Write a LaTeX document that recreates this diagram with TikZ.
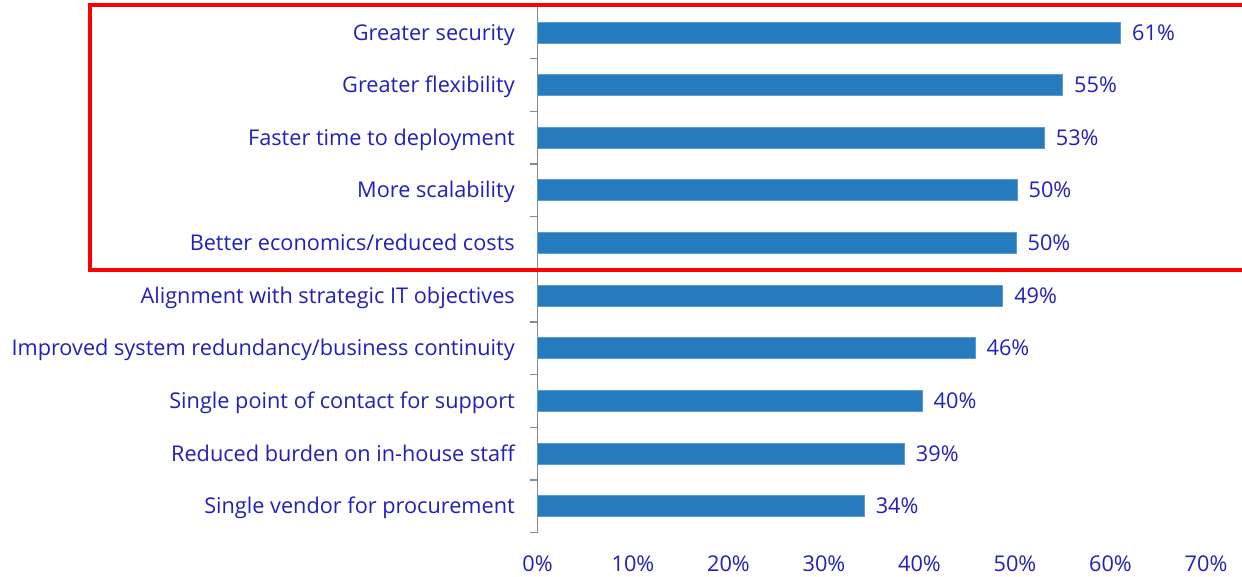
\documentclass[tikz,border=0pt]{standalone}
\usepackage{fontspec}
\setmainfont{Open Sans}
\definecolor{barblue}{RGB}{38,123,190}
\definecolor{txtblue}{RGB}{32,32,186}
\definecolor{axisgray}{RGB}{137,137,137}
\begin{document}
\begin{tikzpicture}[x=1pt, y=-1pt,
	lbl/.style={text=txtblue, font=\fontsize{21.7}{26}\selectfont, inner sep=0pt},
	bar/.style={fill=barblue, draw=barblue!75!white, line width=0.6pt},
	axisline/.style={axisgray, line width=1.3pt}]
	\useasboundingbox (0,0) rectangle (1242,577);
	\coordinate (orig) at (537.5,6);
	\def\pxpct{9.55}
	\def\rowh{52.65}
	\def\barh{10.5}
	\draw[axisline] (orig) -- (537.5,532.5);
	\foreach \k in {1,...,10}{%
		\draw[axisline] (537.5,6+\k*\rowh) -- ++(-8,0);
	}
	\foreach \v/\w/\t [count=\i] in {61/61.05/{Greater security},
		55/54.97/{Greater flexibility}, 53/53.05/{Faster time to deployment},
		50/50.2/{More scalability}, 50/50.1/{Better economics/reduced costs},
		49/48.7/{Alignment with strategic IT objectives},
		46/45.8/{Improved system redundancy/business continuity},
		40/40.26/{Single point of contact for support},
		39/38.4/{Reduced burden on in-house staff},
		34/34.2/{Single vendor for procurement}}{%
		\pgfmathsetmacro{\yc}{6+(\i-0.5)*\rowh}
		\filldraw[bar] (537.5,\yc-\barh) rectangle (537.5+\w*\pxpct,\yc+\barh);
		\node[lbl, anchor=base east] (cat\i) at (515,\yc+7.7) {\t};
		\node[lbl, anchor=base west] (val\i) at (537.5+\w*\pxpct+11.5,\yc+7.7) {\v\%};
	}
	\foreach \p in {0,10,...,70}{%
		\node[lbl, anchor=base] (tick\p) at (537.5+\p*\pxpct,571) {\p\%};
	}
	\draw[red, line width=4pt] (1250,5) -- (90,5) -- (90,270) -- (1250,270);
\end{tikzpicture}
\end{document}
